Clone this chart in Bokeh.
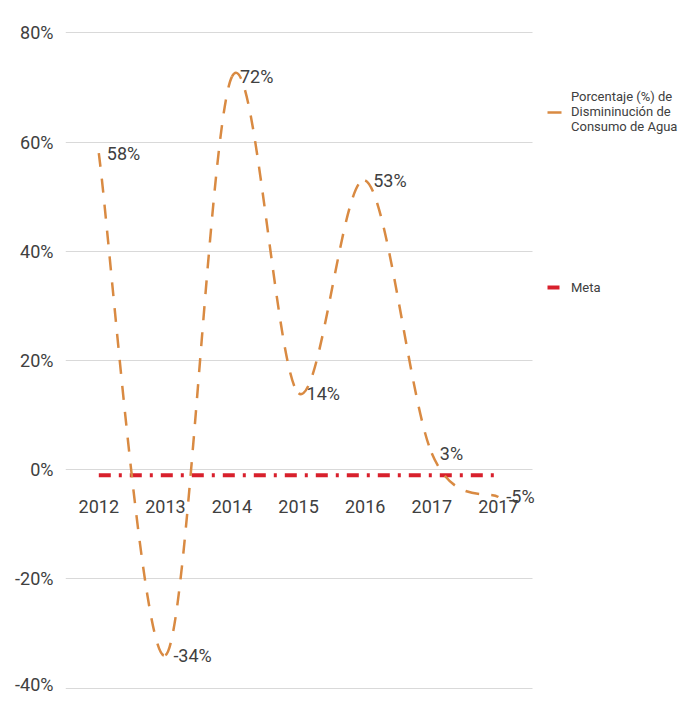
import numpy as np
from bokeh.plotting import figure
from bokeh.models import Range1d, FixedTicker, Legend, LegendItem, ColumnDataSource
from bokeh.core.properties import value
from bokeh.embed import file_html
from bokeh.resources import INLINE

# ---- data ----
years = ["2012", "2013", "2014", "2015", "2016", "2017", "2017"]
pct = [58, -34, 72, 14, 53, 3, -5]
meta = [-1, -1, -1, -1, -1, -1, -1]
y_ticks = [-40, -20, 0, 20, 40, 60, 80]
series_label = "Porcentaje (%) de\nDismininución de\nConsumo de Agua"
meta_label = "Meta"

FONT = "Roboto"
TXT = "#404040"
ORANGE = "#D98A42"
RED = "#D8202C"

xi = np.arange(len(pct), dtype=float)
yv = np.array(pct, dtype=float)

# smoothed (Catmull-Rom style) bezier segments built from the data points
xp = np.concatenate([[xi[0]], xi, [xi[-1]]])
yp = np.concatenate([[yv[0]], yv, [yv[-1]]])
n = len(xi)
seg = ColumnDataSource(dict(
    x0=xi[:-1], y0=yv[:-1], x1=xi[1:], y1=yv[1:],
    cx0=xi[:-1] + (xp[2:n + 1] - xp[0:n - 1]) / 6.0,
    cy0=yv[:-1] + (yp[2:n + 1] - yp[0:n - 1]) / 6.0,
    cx1=xi[1:] - (xp[3:n + 2] - xp[1:n]) / 6.0,
    cy1=yv[1:] - (yp[3:n + 2] - yp[1:n]) / 6.0,
))

# frame spans plot area + legend area; gridlines are bounded to the plot area
p = figure(width=679, height=694, output_backend="svg", toolbar_location=None,
           x_range=Range1d(-0.5, 8.72), y_range=Range1d(-41, 81),
           min_border_left=65, min_border_right=0, min_border_top=27,
           min_border_bottom=1)
p.outline_line_color = None
p.xaxis.visible = False
p.xgrid.visible = False

p.yaxis.ticker = FixedTicker(ticks=y_ticks)
p.yaxis.major_label_overrides = {t: f"{t}%" for t in y_ticks}
p.yaxis.axis_line_color = None
p.yaxis.major_tick_line_color = None
p.yaxis.minor_tick_line_color = None
p.yaxis.major_label_standoff = 6
p.yaxis.major_label_text_font = FONT
p.yaxis.major_label_text_font_size = "18px"
p.yaxis.major_label_text_color = TXT
p.ygrid.ticker = FixedTicker(ticks=y_ticks)
p.ygrid.grid_line_color = "#D9D9D9"
p.ygrid.grid_line_width = 1
p.ygrid.cross_bounds = (-0.5, 6.52)

# meta line
meta_r = p.line(xi, meta, line_color=RED, line_width=4, line_dash="12 8 3 8")

# smoothed percentage line
bez = p.bezier(x0="x0", y0="y0", x1="x1", y1="y1", cx0="cx0", cy0="cy0",
               cx1="cx1", cy1="cy1", source=seg, line_color=ORANGE,
               line_width=2.5, line_dash="14 12")

# category labels along the zero line
p.text(x=xi, y=[0] * n, text=years, text_font=value(FONT), text_font_size="18px",
       text_color=TXT, text_align="center", text_baseline="middle", y_offset=37)

# data labels
p.text(x=xi, y=yv, text=[f"{v}%" for v in pct], text_font=value(FONT),
       text_font_size="18px", text_color=TXT, text_align="left",
       text_baseline="middle", x_offset=8)

legend = Legend(items=[LegendItem(label=series_label, renderers=[bez]),
                       LegendItem(label=meta_label, renderers=[meta_r])],
                location=(482, 396), padding=0, margin=0, spacing=143,
                border_line_color=None, background_fill_alpha=0,
                glyph_width=18, label_standoff=6,
                label_text_font=FONT, label_text_font_size="13px",
                label_text_color=TXT)
p.add_layout(legend, "center")

open("out.html", "w").write(file_html(p, INLINE))
